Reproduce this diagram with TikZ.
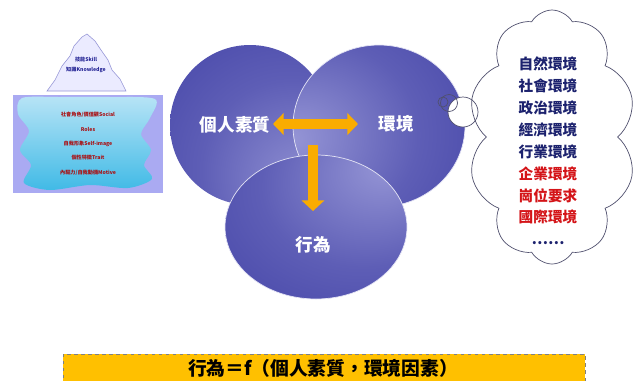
\documentclass[tikz,border=0pt]{standalone}
\usepackage{fontspec}
\newfontfamily\cjk{Noto Sans CJK TC}
\usetikzlibrary{shapes.symbols,arrows.meta,positioning,calc}
\definecolor{ballnavy}{RGB}{38,38,150}
\definecolor{balllight}{RGB}{150,150,214}
\definecolor{arroworange}{RGB}{250,172,0}
\definecolor{cloudnavy}{RGB}{28,34,110}
\definecolor{cloudred}{RGB}{212,20,24}
\definecolor{cloudline}{RGB}{80,80,110}
\definecolor{bannergold}{RGB}{255,192,0}
\definecolor{waterlilac}{RGB}{170,170,242}
\definecolor{icecyan}{RGB}{64,186,230}
\definecolor{icepale}{RGB}{184,228,246}

% light spot placed off centre for each ball
\pgfdeclareradialshading{balllowright}{\pgfpoint{20bp}{-22bp}}{color(0bp)=(balllight); color(28bp)=(balllight!50!ballnavy); color(78bp)=(ballnavy)}
\pgfdeclareradialshading{ballleft}{\pgfpoint{-26bp}{-4bp}}{color(0bp)=(balllight); color(28bp)=(balllight!50!ballnavy); color(78bp)=(ballnavy)}
\pgfdeclareradialshading{balltopright}{\pgfpoint{20bp}{22bp}}{color(0bp)=(balllight); color(28bp)=(balllight!50!ballnavy); color(78bp)=(ballnavy)}

\begin{document}
\begin{tikzpicture}[
    x=0.03cm, y=-0.03cm,
    ballrim/.style={draw=white!75!balllight, line width=0.6pt},
    balllabel/.style={text=white, font=\cjk\bfseries\fontsize{15}{18}\selectfont},
    factor/.style={font=\cjk\bfseries\fontsize{12.5}{18.7}\selectfont, align=center},
    icetext/.style={font=\cjk\bfseries\fontsize{4.4}{5}\selectfont, inner sep=0pt},
    blockarrow/.style={arroworange, line width=8.5pt, -{Triangle[width=19pt,length=9pt]}},
    twoway/.style={arroworange, line width=8.5pt, {Triangle[width=18pt,length=9pt]}-{Triangle[width=18pt,length=9pt]}},
    banner/.style={draw=gray, dashed, fill=bannergold, minimum width=522*0.03cm, minimum height=32*0.03cm, anchor=north west}
]
    \useasboundingbox (0,0) rectangle (640,380);

    % Iceberg: water box and the part under it
    \fill[waterlilac] (13,93) rectangle (163,193);
    \shade[top color=icepale, bottom color=icecyan]
        plot[smooth cycle] coordinates {(22,98) (60,97) (110,97) (155,99) (150,118) (141,134) (151,150) (144,165) (152,179) (128,188) (90,185) (50,190) (24,183) (31,165) (20,150) (29,131) (18,114)};
    \draw[white, line width=1.2pt] (13,94) -- (163,94);

    % Iceberg tip
    \draw[fill=white!92!blue, draw=balllight, line width=0.5pt]
        (47,91) -- (55,80) -- (62,66) -- (70,56) -- (74,46) -- (82,37) -- (87,34) -- (95,41) -- (101,50) -- (108,60) -- (112,70) -- (120,79) -- (126,91) -- cycle;
    \node[icetext, text=ballnavy] (skill) at (86,60) {技能Skill};
    \node[icetext, text=ballnavy] (knowledge) at (86,70) {知識Knowledge};

    % Iceberg texts under water
    \node[icetext, text=cloudred!80!black] (roles) at (88,115) {社會角色/價值觀Social};
    \node[icetext, text=cloudred!80!black] (roles2) at (88,129) {Roles};
    \node[icetext, text=cloudred!80!black] (image) at (88,144) {自我形象Self-image};
    \node[icetext, text=cloudred!80!black] (trait) at (88,158) {個性特徵Trait};
    \node[icetext, text=cloudred!80!black] (motive) at (88,173) {內驅力/自我動機Motive};

    % Three balls
    \shade[shading=balllowright] (250,125) ellipse [x radius=80, y radius=80];
    \shade[shading=ballleft, ballrim] (379,126) ellipse [x radius=86, y radius=81];
    \shade[shading=balltopright, ballrim] (316,227) ellipse [x radius=91, y radius=72];

    \node[balllabel] (quality) at (235,125) {個人素質};
    \node[balllabel] (env) at (396,124) {環境};
    \node[balllabel] (behaviour) at (313,245) {行為};

    % Arrows between the balls
    \coordinate (qualtip) at (273,124);
    \coordinate (envtip) at (358,124);
    \coordinate (downstart) at (313,145);
    \coordinate (downtip) at (313,211);
    \draw[twoway] (qualtip) -- (envtip);
    \draw[blockarrow] (downstart) -- (downtip);

    % Thought bubble and cloud
    \fill[white] (463,112) circle[radius=15];
    \node[cloud, cloud ignores aspect, draw=cloudline, fill=white, line width=0.6pt, cloud puffs=10, cloud puff arc=120,
          minimum width=168*0.03cm, minimum height=254*0.03cm, inner sep=0pt] (cloud) at (552,137) {};
    \draw[cloudline, line width=0.6pt] (443,102) circle[radius=5];
    \draw[cloudline, line width=0.6pt] (449,103) circle[radius=8.5];
    \draw[cloudline, line width=0.6pt] (463,112) circle[radius=15];

    \node[factor] (factors) at (548,151) {%
        \textcolor{cloudnavy}{自然環境}\\
        \textcolor{cloudnavy}{社會環境}\\
        \textcolor{cloudnavy}{政治環境}\\
        \textcolor{cloudnavy}{經濟環境}\\
        \textcolor{cloudnavy}{行業環境}\\
        \textcolor{cloudred}{企業環境}\\
        \textcolor{cloudred}{崗位要求}\\
        \textcolor{cloudred}{國際環境}\\
        \textcolor{cloudnavy}{……}};

    % Formula banner
    \node[banner] (formula) at (63,354) {};
    \node[font=\cjk\bfseries\fontsize{16}{18}\selectfont] (formulatext) at (323,368) {行為＝f（個人素質，環境因素）};
\end{tikzpicture}
\end{document}
